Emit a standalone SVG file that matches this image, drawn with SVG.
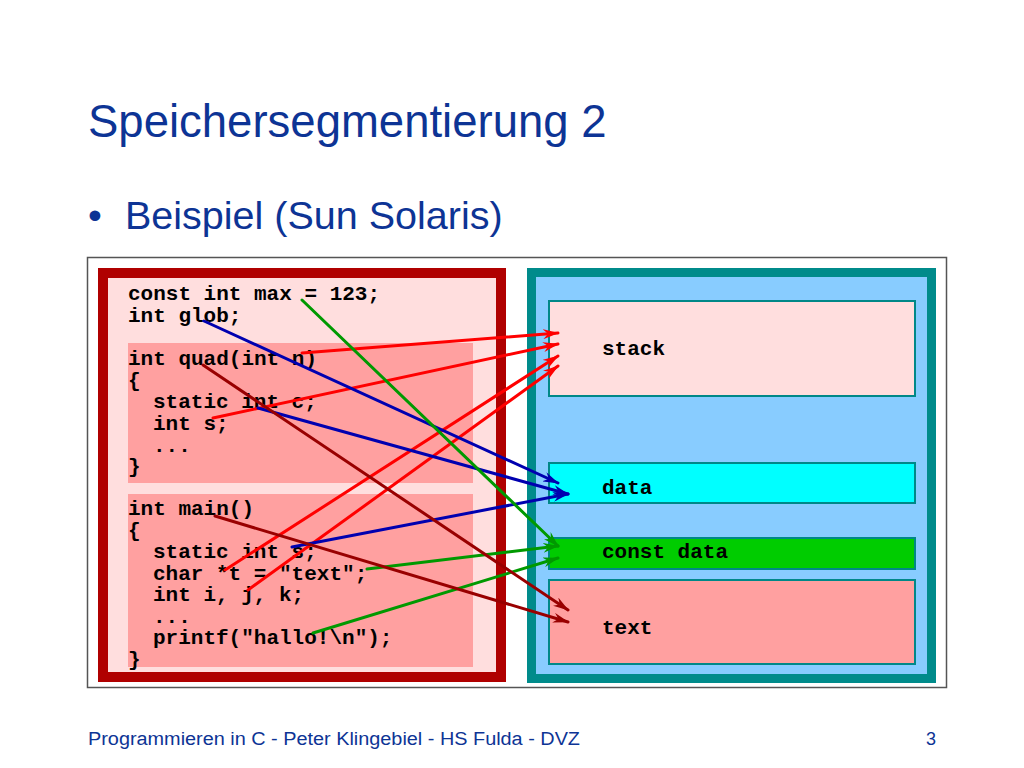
<svg xmlns="http://www.w3.org/2000/svg" width="1024" height="768" viewBox="0 0 1024 768">
<defs>
<style>
.title{font-family:"Liberation Sans",Arial,sans-serif;fill:#0d3495}
.code{font-family:"Liberation Mono","Courier New",monospace;font-weight:bold;font-size:21px;fill:#000}
.seg{stroke:#008888;stroke-width:2}
.ln{fill:none;stroke-width:3;stroke-linecap:round}
.red{stroke:#ff0000;marker-end:url(#mRed)}
.blue{stroke:#0000b0;marker-end:url(#mBlue)}
.green{stroke:#009900;marker-end:url(#mGreen)}
.dred{stroke:#990000;marker-end:url(#mDred)}
</style>
<marker id="mRed" viewBox="0 0 16 10" refX="15" refY="5" markerWidth="16" markerHeight="10" markerUnits="userSpaceOnUse" orient="auto"><path d="M0,0 L16,5 L0,10 L5,5 z" fill="#ff0000"/></marker>
<marker id="mBlue" viewBox="0 0 16 10" refX="15" refY="5" markerWidth="16" markerHeight="10" markerUnits="userSpaceOnUse" orient="auto"><path d="M0,0 L16,5 L0,10 L5,5 z" fill="#0000b0"/></marker>
<marker id="mGreen" viewBox="0 0 16 10" refX="15" refY="5" markerWidth="16" markerHeight="10" markerUnits="userSpaceOnUse" orient="auto"><path d="M0,0 L16,5 L0,10 L5,5 z" fill="#009900"/></marker>
<marker id="mDred" viewBox="0 0 16 10" refX="15" refY="5" markerWidth="16" markerHeight="10" markerUnits="userSpaceOnUse" orient="auto"><path d="M0,0 L16,5 L0,10 L5,5 z" fill="#990000"/></marker>
</defs>
<rect width="1024" height="768" fill="#fff"/>
<text class="title" x="88" y="137" font-size="45.5">Speichersegmentierung 2</text>
<text class="title" x="88" y="229" font-size="39.5">•</text>
<text class="title" x="125" y="229" font-size="39.5">Beispiel (Sun Solaris)</text>

<rect x="87.5" y="257.5" width="859" height="430" fill="#fff" stroke="#555" stroke-width="1.5"/>

<g id="code">
<rect x="103" y="273" width="398" height="404" fill="#ffdede" stroke="#b00000" stroke-width="10"/>
<rect x="128" y="343" width="345" height="140" fill="#ffa0a0"/>
<rect x="128" y="494" width="345" height="173" fill="#ffa0a0"/>
<text class="code" x="128" y="300">const int max = 123;</text>
<text class="code" x="128" y="322">int glob;</text>
<text class="code" x="128" y="365">int quad(int n)</text>
<text class="code" x="128" y="387">{</text>
<text class="code" x="153" y="408">static int c;</text>
<text class="code" x="153" y="430">int s;</text>
<text class="code" x="153" y="452">...</text>
<text class="code" x="128" y="473">}</text>
<text class="code" x="128" y="515">int main()</text>
<text class="code" x="128" y="537">{</text>
<text class="code" x="153" y="558">static int s;</text>
<text class="code" x="153" y="580">char *t = "text";</text>
<text class="code" x="153" y="601">int i, j, k;</text>
<text class="code" x="153" y="623">...</text>
<text class="code" x="153" y="644">printf("hallo!\n");</text>
<text class="code" x="128" y="666">}</text>
</g>

<g id="memory">
<rect x="531.5" y="272.5" width="400" height="406" fill="#88ccff" stroke="#008b8b" stroke-width="9"/>
</g>
<g id="stack">
<rect class="seg" x="549" y="301" width="366" height="95" fill="#ffdede"/>
<text class="code" x="602" y="355">stack</text>
</g>
<g id="data">
<rect class="seg" x="549" y="463" width="366" height="40" fill="#00ffff"/>
<text class="code" x="602" y="494">data</text>
</g>
<g id="constdata">
<rect class="seg" x="549" y="538" width="366" height="31" fill="#00cc00"/>
<text class="code" x="602" y="558">const data</text>
</g>
<g id="text">
<rect class="seg" x="549" y="580" width="366" height="84" fill="#ffa0a0"/>
<text class="code" x="602" y="634">text</text>
</g>

<g id="connectors">
<line class="ln red" x1="302" y1="353" x2="558" y2="333"/>
<line class="ln red" x1="213" y1="418" x2="558" y2="344"/>
<line class="ln red" x1="225" y1="570" x2="558" y2="356"/>
<line class="ln red" x1="248" y1="590" x2="558" y2="366"/>
<line class="ln blue" x1="204" y1="321" x2="558" y2="483"/>
<line class="ln blue" x1="258" y1="408" x2="568" y2="494"/>
<line class="ln blue" x1="292" y1="547" x2="568" y2="494"/>
<line class="ln green" x1="302" y1="300" x2="558" y2="546"/>
<line class="ln green" x1="367" y1="569" x2="558" y2="546"/>
<line class="ln green" x1="313" y1="633" x2="558" y2="558"/>
<line class="ln dred" x1="203" y1="365" x2="568" y2="610"/>
<line class="ln dred" x1="215" y1="516" x2="568" y2="622"/>
</g>

<text class="title" x="88" y="745" font-size="18" textLength="492" lengthAdjust="spacingAndGlyphs">Programmieren in C - Peter Klingebiel - HS Fulda - DVZ</text>
<text class="title" x="936" y="745" font-size="18" text-anchor="end">3</text>
</svg>
